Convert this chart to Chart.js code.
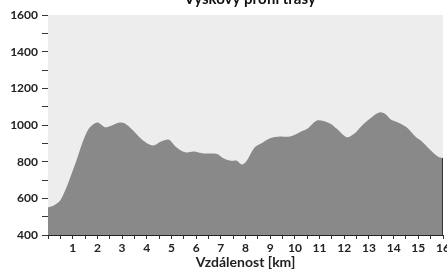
<!DOCTYPE html>
<html><head><meta charset="utf-8">
<script src="https://cdn.jsdelivr.net/npm/chart.js@4/dist/chart.umd.min.js"></script>
<style>html,body{margin:0;padding:0;background:#fff;}#wrap{width:447px;height:271px;position:relative;}</style>
</head><body><div id="wrap"><canvas id="c" width="447" height="271"></canvas></div>
<script>
const chartTitle = "Výškový profil trasy";
const xTitle = "Vzdálenost [km]";
const distanceKm = [0, 0.25, 0.5, 0.75, 0.9, 1.15, 1.4, 1.65, 1.9, 2.05, 2.3, 2.5, 2.85, 3.1, 3.45, 3.85, 4.25, 4.6, 4.9, 5.2, 5.55, 5.9, 6.3, 6.85, 7.1, 7.4, 7.65, 7.85, 8.05, 8.35, 8.65, 9.0, 9.4, 9.8, 10.2, 10.5, 10.9, 11.4, 11.7, 12.1, 12.4, 12.7, 13.2, 13.45, 13.65, 13.9, 14.1, 14.5, 14.9, 15.1, 15.5, 15.8, 16.0];
const elevationM = [550, 562, 590, 660, 714, 805, 906, 980, 1010, 1012, 988, 993, 1012, 1010, 970, 915, 888, 911, 920, 878, 851, 856, 845, 842, 818, 805, 805, 784, 805, 875, 900, 928, 937, 937, 961, 979, 1025, 1010, 979, 933, 952, 995, 1052, 1070, 1061, 1028, 1018, 990, 935, 915, 862, 827, 820];
const yTickValues = [400, 600, 800, 1000, 1200, 1400, 1600];
const xTickLabels = ["1","2","3","4","5","6","7","8","9","10","11","12","13","14","15","16"];

const points = distanceKm.map((k, i) => ({x: k, y: elevationM[i]}));
const FONT = 'Lato, "Open Sans", sans-serif';

const bgPlugin = {
  id: 'bg',
  beforeDatasetsDraw(chart) {
    const {ctx, chartArea: a} = chart;
    ctx.save();
    ctx.fillStyle = '#ededed';
    ctx.fillRect(a.left, a.top, a.right - a.left, a.bottom - a.top);
    ctx.restore();
  },
  afterDatasetsDraw(chart) {
    const {ctx, chartArea: a} = chart;
    const meta = chart.getDatasetMeta(0);
    const last = meta.data[meta.data.length - 1];
    ctx.save();
    ctx.strokeStyle = '#333';
    ctx.lineWidth = 1;
    ctx.beginPath();
    ctx.moveTo(Math.round(last.x) - 0.5, last.y);
    ctx.lineTo(Math.round(last.x) - 0.5, a.bottom);
    ctx.stroke();
    ctx.restore();
  },
  afterDraw(chart) {
    const {ctx} = chart;
    ctx.save();
    ctx.fillStyle = '#111';
    ctx.font = 'bold 15px ' + FONT;
    ctx.textAlign = 'center';
    ctx.textBaseline = 'alphabetic';
    ctx.fillText(chartTitle, 250, 4);
    ctx.restore();
  }
};

new Chart(document.getElementById('c'), {
  type: 'line',
  data: { datasets: [{
    data: points,
    fill: 'start',
    backgroundColor: '#898989',
    borderWidth: 0,
    borderColor: 'rgba(0,0,0,0)',
    pointRadius: 0,
    tension: 0.3
  }]},
  options: {
    responsive: false,
    animation: false,
    devicePixelRatio: 1,
    layout: { padding: { top: 15, right: 4, left: 0, bottom: 0 } },
    plugins: { legend: { display: false }, tooltip: { enabled: false }, title: { display: false } },
    scales: {
      x: {
        type: 'linear', min: 0, max: 16,
        afterFit(s) { s.height = 36; s.paddingLeft = 0; s.paddingRight = 0; },
        border: { display: true, color: '#222', width: 1 },
        grid: { drawOnChartArea: false, drawTicks: true, tickLength: 4, color: '#333' },
        ticks: {
          stepSize: 0.5, autoSkip: false, maxRotation: 0, minRotation: 0, padding: 2,
          color: '#222', font: { family: FONT, size: 12, weight: 'bold' },
          callback: (v) => (Number.isInteger(v) && v > 0) ? xTickLabels[v - 1] : ''
        },
        title: { display: true, text: xTitle, color: '#222', padding: { top: 0, bottom: 0 },
          font: { family: FONT, size: 14, weight: 'bold' } }
      },
      y: {
        min: 400, max: 1600,
        afterFit(s) { s.width = 48; },
        border: { display: true, color: '#222', width: 1 },
        grid: { drawOnChartArea: false, drawTicks: true, tickLength: 6, color: '#333' },
        ticks: {
          stepSize: 100, autoSkip: false, padding: 4,
          color: '#222', font: { family: FONT, size: 12, weight: 'bold' },
          callback: (v) => yTickValues.includes(v) ? String(v) : ''
        }
      }
    }
  },
  plugins: [bgPlugin]
});
</script></body></html>
